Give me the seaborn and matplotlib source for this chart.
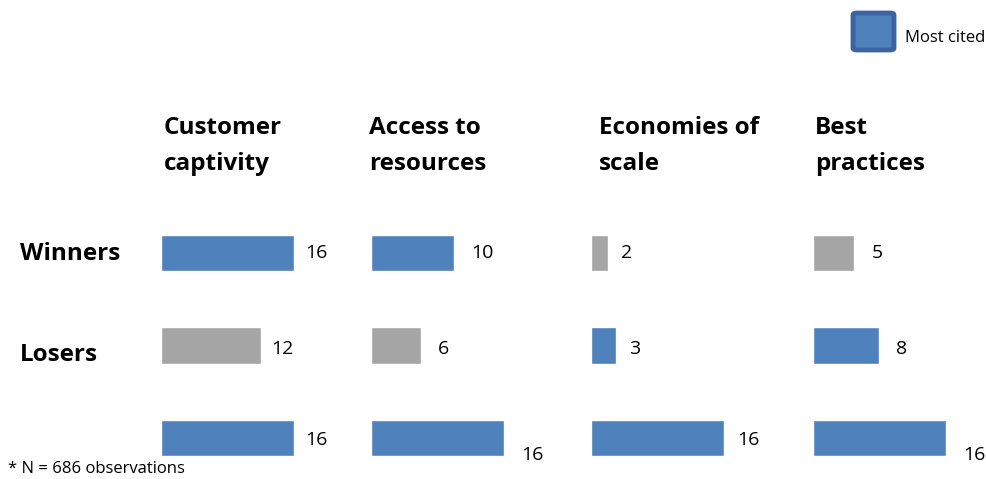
import matplotlib
matplotlib.use("Agg")
import matplotlib.pyplot as plt
import seaborn as sns
import pandas as pd
from matplotlib.patches import FancyBboxPatch
from matplotlib.transforms import offset_copy

# ---- data ----
categories = ["Customer\ncaptivity", "Access to\nresources", "Economies of\nscale", "Best\npractices"]
rows = ["Winners", "Losers", "Most cited"]
winners = [16, 10, 2, 5]
losers = [12, 6, 3, 8]
most_cited = [16, 16, 16, 16]
footnote = "* N = 686 observations"
legend_label = "Most cited"

BLUE = "#4F81BD"
GRAY = "#A5A5A5"

sns.set_theme(style="white")
plt.rcParams["font.family"] = ["Open Sans", "DejaVu Sans"]

W, H = 987, 479
fig = plt.figure(figsize=(W / 100, H / 100), dpi=100)

panel_left_px = [161, 371, 591, 813]
px_per_unit = 8.3
ax_w_px = 20 * px_per_unit
row_gap_px = 92.5
top_px = 253 - row_gap_px / 2
ymax = 2.4
ax_h_px = (ymax + 0.5) * row_gap_px
bottom_row_dy = [2, 17, 2, 17]  # vertical nudge of bottom-row labels (px)
label_pad = [11, 17, 13, 17]
header_dx = [3, -2, 8, 2]

for i, cat in enumerate(categories):
    vals = [winners[i], losers[i], most_cited[i]]
    cols = [BLUE if winners[i] >= losers[i] else GRAY,
            BLUE if losers[i] > winners[i] else GRAY,
            BLUE]
    df = pd.DataFrame({"row": rows, "value": vals})
    left = panel_left_px[i] / W
    bottom = (H - top_px - ax_h_px) / H
    ax = fig.add_axes([left, bottom, ax_w_px / W, ax_h_px / H])
    sns.barplot(data=df, x="value", y="row", hue="row", palette=cols,
                orient="h", width=0.39, legend=False, ax=ax, saturation=1)
    ax.set_xlim(0, 20)
    ax.set_ylim(ymax, -0.5)
    ax.axis("off")
    for j, v in enumerate(vals):
        dy = -bottom_row_dy[i] if j == 2 else (-3 if j == 1 else 0)
        tr = offset_copy(ax.transData, fig=fig, x=label_pad[i] * 0.72, y=dy * 0.72, units="points")
        ax.text(v, j, str(v), transform=tr, ha="left", va="center",
                fontsize=14, color="black")
    for k, line in enumerate(cat.split("\n")):
        fig.text((panel_left_px[i] + header_dx[i]) / W, 1 - (134 + 36 * k) / H, line,
                 ha="left", va="baseline", fontsize=17.5, fontweight="bold", color="black")

fig.text(20 / W, 1 - 260 / H, "Winners", ha="left", va="baseline",
         fontsize=17.5, fontweight="bold", color="black")
fig.text(20 / W, 1 - 361 / H, "Losers", ha="left", va="baseline",
         fontsize=17.5, fontweight="bold", color="black")
fig.text(8 / W, 1 - 469 / H, footnote, ha="left", va="center",
         fontsize=12, color="black")

# legend swatch
swatch = FancyBboxPatch((855 / W, 1 - 49 / H), 37 / W, 35 / H,
                        boxstyle="round,pad=0.002,rounding_size=0.004",
                        transform=fig.transFigure, facecolor=BLUE,
                        edgecolor="#3B64A0", linewidth=3.5)
fig.patches.append(swatch)
fig.text(905 / W, 1 - 38 / H, legend_label, ha="left", va="center",
         fontsize=12, color="black")

fig.savefig("out.png", dpi=100, facecolor="white")
